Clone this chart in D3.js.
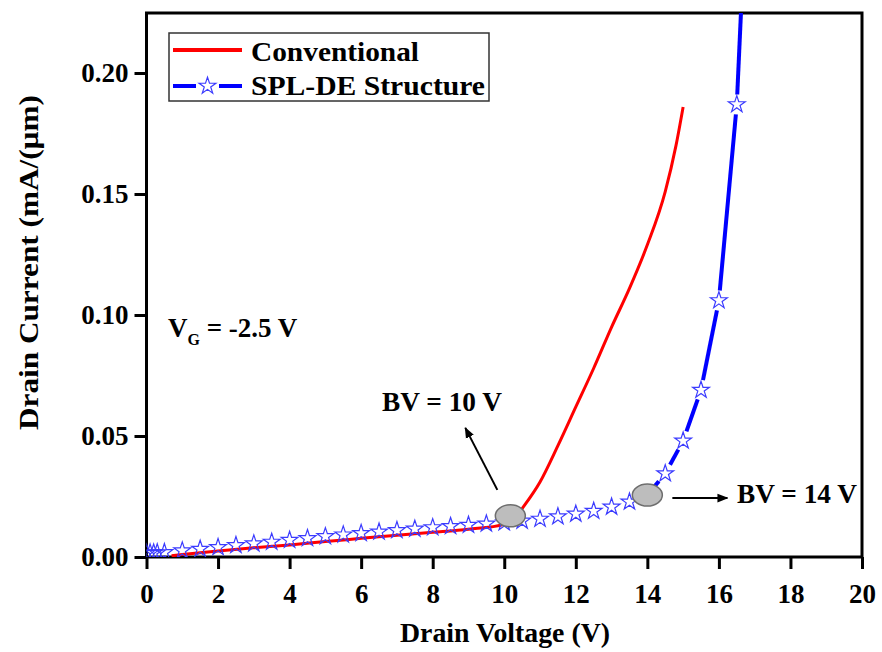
<!DOCTYPE html>
<html>
<head>
<meta charset="utf-8">
<script src="https://cdn.jsdelivr.net/npm/d3@7"></script>
<style>
  body { margin: 0; background: #fff; }
  text { font-family: "Liberation Serif", "Times New Roman", serif; font-weight: bold; }
</style>
</head>
<body>
<div id="graph"></div>
<script>
// Conventional device (red)
var convVolt = [0.7, 1, 2, 3, 4, 5, 6, 7, 8, 9, 10, 10.3, 10.5, 11, 11.5, 12, 12.5, 13, 13.5, 14, 14.5, 14.8, 15];
var convCurr = [0.0005, 0.001, 0.0025, 0.0038, 0.005, 0.0064, 0.0077, 0.009, 0.0102, 0.0115, 0.0135, 0.016, 0.020, 0.031, 0.046, 0.062, 0.078, 0.095, 0.111, 0.129, 0.151, 0.170, 0.186];

// SPL-DE structure (blue, stars)
var splVolt = [0, 0.1, 0.2, 0.3, 0.5, 1, 1.5, 2, 2.5, 3, 3.5, 4, 4.5, 5, 5.5, 6, 6.5, 7, 7.5, 8, 8.5, 9, 9.5, 10, 10.5, 11, 11.5, 12, 12.5, 13, 13.5, 14, 14.5, 15, 15.5, 16, 16.5, 16.62];
var splCurr = [0.0016, 0.0017, 0.0017, 0.0018, 0.0019, 0.0026, 0.0033, 0.004, 0.0048, 0.0055, 0.0062, 0.007, 0.0077, 0.0085, 0.0092, 0.0098, 0.0104, 0.011, 0.0116, 0.0122, 0.0127, 0.0132, 0.0137, 0.0142, 0.0149, 0.0157, 0.0167, 0.0178, 0.0190, 0.0207, 0.0228, 0.0256, 0.0345, 0.048, 0.069, 0.106, 0.187, 0.226];

var xTicks = [0, 2, 4, 6, 8, 10, 12, 14, 16, 18, 20];
var yTicks = [0, 0.05, 0.10, 0.15, 0.20];

// breakdown markers
var bvVolt = [10.17, 14.0];
var bvCurr = [0.017, 0.0256];

var W = 882, H = 652;
var margin = {top: 13, right: 20, bottom: 95, left: 146.5};
var width = 862 - margin.left;
var height = 557 - margin.top;
var fs = 27;

var svg = d3.select("#graph").append("svg")
    .attr("width", W).attr("height", H);

var x = d3.scaleLinear().domain([0, 20]).range([0, width]);
var y = d3.scaleLinear().domain([0, 0.2248]).range([height, 0]);

var g = svg.append("g").attr("transform", "translate(" + margin.left + "," + margin.top + ")");

g.append("defs").append("clipPath").attr("id", "clip")
  .append("rect").attr("width", width).attr("height", height);

g.append("defs").append("marker")
  .attr("id", "arr").attr("viewBox", "0 0 10 10")
  .attr("refX", 9).attr("refY", 5)
  .attr("markerWidth", 5.5).attr("markerHeight", 5.5)
  .attr("markerUnits", "strokeWidth")
  .attr("orient", "auto")
  .append("path").attr("d", "M0,1 L10,5 L0,9 Z").attr("fill", "#000");

//axes
var xAxis = g.append("g")
  .attr("transform", "translate(0," + height + ")")
  .call(d3.axisBottom(x).tickValues(xTicks).tickSize(12).tickPadding(15).tickFormat(d3.format("d")));
var yAxis = g.append("g")
  .call(d3.axisLeft(y).tickValues(yTicks).tickSize(12).tickPadding(6).tickFormat(d3.format(".2f")));

[xAxis, yAxis].forEach(function (a) {
  a.select(".domain").remove();
  a.selectAll("line").attr("stroke", "#000").attr("stroke-width", 3);
  a.selectAll("text").attr("fill", "#000").style("font-size", fs + "px")
   .style("font-family", "'Liberation Serif', serif").style("font-weight", "bold");
});

// frame
g.append("rect")
  .attr("width", width).attr("height", height)
  .attr("fill", "none").attr("stroke", "#000").attr("stroke-width", 3);

var plot = g.append("g").attr("clip-path", "url(#clip)");

// red line
var convData = convVolt.map(function (v, i) { return [v, convCurr[i]]; });
var line = d3.line().x(function (d) { return x(d[0]); }).y(function (d) { return y(d[1]); }).curve(d3.curveMonotoneX);

plot.append("path")
  .attr("d", line(convData))
  .attr("fill", "none").attr("stroke", "#ff0000").attr("stroke-width", 3);

// blue line, broken around the symbols
var splData = splVolt.map(function (v, i) { return [v, splCurr[i]]; });
var gap = 10;
for (var i = 0; i < splData.length - 1; i++) {
  var x1 = x(splData[i][0]), y1 = y(splData[i][1]);
  var x2 = x(splData[i + 1][0]), y2 = y(splData[i + 1][1]);
  var len = Math.hypot(x2 - x1, y2 - y1);
  var endGap = (splData[i + 1][1] > y.domain()[1]) ? 0 : gap;
  if (len <= gap + endGap + 1) continue;
  var ux = (x2 - x1) / len, uy = (y2 - y1) / len;
  plot.append("line")
    .attr("x1", x1 + ux * gap).attr("y1", y1 + uy * gap)
    .attr("x2", x2 - ux * endGap).attr("y2", y2 - uy * endGap)
    .attr("stroke", "#0000ff").attr("stroke-width", 4);
}

var star = d3.symbol().type(d3.symbolStar).size(88);
plot.selectAll(".star")
  .data(splData.filter(function (d) { return d[1] <= y.domain()[1]; }))
  .enter().append("path")
  .attr("class", "star")
  .attr("d", star)
  .attr("transform", function (d) { return "translate(" + x(d[0]) + "," + y(d[1]) + ")"; })
  .attr("fill", "none").attr("stroke", "#3b3bff").attr("stroke-width", 1.2);

// breakdown ellipses
bvVolt.forEach(function (v, i) {
  g.append("ellipse")
    .attr("cx", x(v)).attr("cy", y(bvCurr[i]))
    .attr("rx", 15).attr("ry", 11)
    .attr("fill", "#bdbdbd").attr("stroke", "#6e6e6e").attr("stroke-width", 1.5);
});

// arrows
g.append("line")
  .attr("x1", x(bvVolt[0]) - 13).attr("y1", y(bvCurr[0]) - 26)
  .attr("x2", x(bvVolt[0]) - 45).attr("y2", y(bvCurr[0]) - 88)
  .attr("stroke", "#000").attr("stroke-width", 2).attr("marker-end", "url(#arr)");
g.append("line")
  .attr("x1", x(bvVolt[1]) + 25).attr("y1", y(bvCurr[1]) + 3)
  .attr("x2", x(bvVolt[1]) + 80).attr("y2", y(bvCurr[1]) + 3)
  .attr("stroke", "#000").attr("stroke-width", 2).attr("marker-end", "url(#arr)");

// annotation text
function label(sel, len) {
  return sel.style("font-size", fs + "px").attr("textLength", len).attr("lengthAdjust", "spacingAndGlyphs");
}
label(svg.append("text").attr("x", 382).attr("y", 411).text("BV = 10 V"), 120);
label(svg.append("text").attr("x", 737).attr("y", 503).text("BV = 14 V"), 120);
var vg = svg.append("text").attr("x", 168).attr("y", 337).style("font-size", fs + "px");
vg.append("tspan").text("V");
vg.append("tspan").attr("dy", 8).style("font-size", "16px").text("G");
vg.append("tspan").attr("dy", -8).text(" = -2.5 V");

// axis labels
label(svg.append("text")
  .attr("x", 400).attr("y", 642)
  .text("Drain Voltage (V)"), 210);
label(svg.append("text")
  .attr("transform", "translate(38,430) rotate(-90)")
  .text("Drain Current (mA/(\u00b5m)"), 335);

// legend
var lg = svg.append("g");
lg.append("rect").attr("x", 169).attr("y", 33).attr("width", 320).attr("height", 68)
  .attr("fill", "#fff").attr("stroke", "#333").attr("stroke-width", 1.5);
lg.append("line").attr("x1", 173).attr("x2", 242).attr("y1", 50).attr("y2", 50)
  .attr("stroke", "#ff0000").attr("stroke-width", 4);
lg.append("line").attr("x1", 173).attr("x2", 196).attr("y1", 86).attr("y2", 86)
  .attr("stroke", "#0000ff").attr("stroke-width", 4);
lg.append("line").attr("x1", 219).attr("x2", 242).attr("y1", 86).attr("y2", 86)
  .attr("stroke", "#0000ff").attr("stroke-width", 4);
lg.append("path").attr("d", star).attr("transform", "translate(207.5,86)")
  .attr("fill", "none").attr("stroke", "#3b3bff").attr("stroke-width", 1.2);
label(lg.append("text").attr("x", 251).attr("y", 61).text("Conventional"), 168);
label(lg.append("text").attr("x", 251).attr("y", 95).text("SPL-DE Structure"), 234);
</script>
</body>
</html>
